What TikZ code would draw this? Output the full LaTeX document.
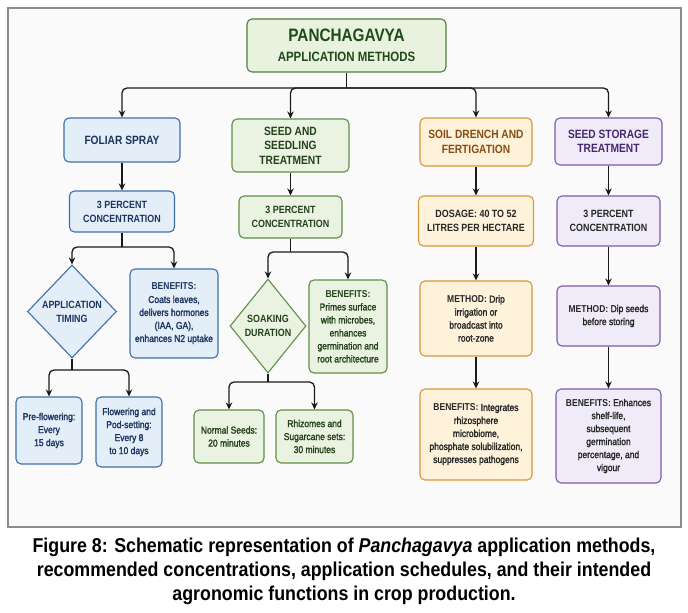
\documentclass[tikz,border=0pt]{standalone}
\usepackage{fontspec}
\setmainfont{Liberation Sans}
\newfontfamily\boxfont[FakeStretch=0.85]{Liberation Sans}
\newfontfamily\bodyfont[FakeStretch=0.85,FakeBold=1.8]{Liberation Sans}
\newfontfamily\capfont[FakeStretch=0.89]{Liberation Sans}
\usetikzlibrary{arrows.meta,shapes.geometric}
\def\lead#1{{\boxfont\bfseries #1}}

\definecolor{framec}{HTML}{8C8C8C}
\definecolor{linec}{HTML}{1A1A1A}
\definecolor{titlefill}{HTML}{E8F2DF}
\definecolor{titleline}{HTML}{4E7F38}
\definecolor{titletext}{HTML}{1E4A18}
\definecolor{bluefill}{HTML}{E4EEF9}
\definecolor{blueline}{HTML}{3F6FA8}
\definecolor{bluetext}{HTML}{1C3560}
\definecolor{greenfill}{HTML}{EAF3E2}
\definecolor{greenline}{HTML}{5F8F45}
\definecolor{greentext}{HTML}{24421A}
\definecolor{orfill}{HTML}{FEF3DA}
\definecolor{orline}{HTML}{D6963A}
\definecolor{ortext}{HTML}{8A4C12}
\definecolor{purfill}{HTML}{F0EBF8}
\definecolor{purline}{HTML}{7C5BA8}
\definecolor{purtext}{HTML}{45286F}
\definecolor{darktext}{HTML}{262626}

\tikzset{
  box/.style={draw, rounded corners=5pt, line width=1.1pt, align=center, inner sep=1pt},
  head/.style={font=\boxfont\bfseries\fontsize{12}{14.5}\selectfont},
  sub/.style={font=\boxfont\bfseries\fontsize{10.5}{14}\selectfont},
  body/.style={font=\bodyfont\fontsize{10}{13}\selectfont},
  bluebox/.style={box, draw=blueline, fill=bluefill, text=bluetext},
  greenbox/.style={box, draw=greenline, fill=greenfill, text=greentext},
  orbox/.style={box, draw=orline, fill=orfill, text=darktext},
  purbox/.style={box, draw=purline, fill=purfill, text=darktext},
  dia/.style={diamond, draw, line width=1.1pt, align=center, inner sep=0pt},
  wire/.style={line width=1.3pt, draw=linec},
  arr/.style={wire, rounded corners=5pt, -{Stealth[length=7pt,width=6.5pt]}},
}

\begin{document}
\begin{tikzpicture}[x=1pt,y=-1pt]
		%%%%% START %%%%%
		
		\useasboundingbox (0,0) rectangle (688,613);
		\fill[white] (0,0) rectangle (688,613);
		\draw[line width=1.6pt, draw=framec, fill=black!2] (8,8) rectangle (681,527);
		
		% top
		\node[box, draw=titleline, fill=titlefill, text=titletext, minimum width=199pt, minimum height=53pt,
		      font=\boxfont\bfseries\fontsize{18}{20}\selectfont] (title) at (346.5,45.5)
		      {PANCHAGAVYA\\{\fontsize{13.5}{16}\selectfont APPLICATION METHODS}};
		\coordinate (bus) at (346.5,88);
		
		% foliar spray
		\node[bluebox, head, minimum width=116pt, minimum height=44pt] (foliar) at (122,140) {FOLIAR SPRAY};
		\node[bluebox, sub, minimum width=105pt, minimum height=41pt] (fconc) at (122,211.5) {3 PERCENT\\CONCENTRATION};
		\node[dia, draw=blueline, fill=bluefill, text=bluetext, sub, minimum width=89pt, minimum height=93pt] (ftime) at (72,311.5) {APPLICATION\\TIMING};
		\node[bluebox, body, minimum width=88pt, minimum height=89pt] (fben) at (174,313.5)
		      {\lead{BENEFITS:}\\Coats leaves,\\delivers hormones\\(IAA, GA),\\enhances N2 uptake};
		\node[bluebox, body, minimum width=66pt, minimum height=67pt] (fpre) at (49,430.5) {Pre-flowering:\\Every\\15 days};
		\node[bluebox, body, minimum width=66pt, minimum height=70pt] (fflow) at (129,432) {Flowering and\\Pod-setting:\\Every 8\\to 10 days};
		\coordinate (fsplit) at (122,247);
		\coordinate (tsplit) at (72,370);
		
		% seed and seedling
		\node[greenbox, head, minimum width=117pt, minimum height=53pt] (seed) at (290.5,145.5) {SEED AND\\SEEDLING\\TREATMENT};
		\node[greenbox, sub, minimum width=103pt, minimum height=42pt] (sconc) at (290.5,217) {3 PERCENT\\CONCENTRATION};
		\node[dia, draw=greenline, fill=greenfill, text=greentext, sub, minimum width=76pt, minimum height=94pt] (ssoak) at (268,326) {SOAKING\\DURATION};
		\node[greenbox, body, minimum width=78pt, minimum height=93pt] (sben) at (348,326.5)
		      {\lead{BENEFITS:}\\Primes surface\\with microbes,\\enhances\\germination and\\root architecture};
		\node[greenbox, body, minimum width=70pt, minimum height=53pt] (snorm) at (229,436.5) {Normal Seeds:\\20 minutes};
		\node[greenbox, body, minimum width=77pt, minimum height=53pt] (srhiz) at (314.5,436.5) {Rhizomes and\\Sugarcane sets:\\30 minutes};
		\coordinate (ssplit) at (290.5,252);
		\coordinate (dsplit) at (268,382);
		
		% soil drench
		\node[orbox, head, text=ortext, minimum width=112pt, minimum height=48pt] (soil) at (476,142) {SOIL DRENCH AND\\FERTIGATION};
		\node[orbox, sub, minimum width=115pt, minimum height=50pt] (odose) at (476,221) {DOSAGE: 40 TO 52\\LITRES PER HECTARE};
		\node[orbox, body, minimum width=112pt, minimum height=75pt] (ometh) at (476,318.5)
		      {\lead{METHOD:} Drip\\irrigation or\\broadcast into\\root-zone};
		\node[orbox, body, minimum width=112pt, minimum height=91pt] (oben) at (476,434.5)
		      {\lead{BENEFITS:} Integrates\\rhizosphere\\microbiome,\\phosphate solubilization,\\suppresses pathogens};
		
		% seed storage
		\node[purbox, head, text=purtext, minimum width=107pt, minimum height=47pt] (store) at (608.5,141.5) {SEED STORAGE\\TREATMENT};
		\node[purbox, sub, minimum width=103pt, minimum height=50pt] (pconc) at (608.5,221) {3 PERCENT\\CONCENTRATION};
		\node[purbox, body, minimum width=103pt, minimum height=60pt] (pmeth) at (608.5,316) {\lead{METHOD:} Dip seeds\\before storing};
		\node[purbox, body, minimum width=105pt, minimum height=94pt] (pben) at (608.5,436)
		      {\lead{BENEFITS:} Enhances\\shelf-life,\\subsequent\\germination\\percentage, and\\vigour};
		
		% connectors
		\draw[wire] (title.south) -- (bus);
		\draw[arr] (bus) -| (foliar.north);
		\draw[arr] (bus) -| (seed.north);
		\draw[arr] (bus) -| (soil.north);
		\draw[arr] (bus) -| (store.north);
		
		\draw[arr] (foliar) -- (fconc);
		\draw[wire] (fconc.south) -- (fsplit);
		\draw[arr] (fsplit) -| (ftime.north);
		\draw[arr] (fsplit) -| (fben.north);
		\draw[wire] (ftime.south) -- (tsplit);
		\draw[arr] (tsplit) -| (fpre.north);
		\draw[arr] (tsplit) -| (fflow.north);
		
		\draw[arr] (seed) -- (sconc);
		\draw[wire] (sconc.south) -- (ssplit);
		\draw[arr] (ssplit) -| (ssoak.north);
		\draw[arr] (ssplit) -| (sben.north);
		\draw[wire] (ssoak.south) -- (dsplit);
		\draw[arr] (dsplit) -| (snorm.north);
		\draw[arr] (dsplit) -| (srhiz.north);
		
		\draw[arr] (soil) -- (odose);
		\draw[arr] (odose) -- (ometh);
		\draw[arr] (ometh) -- (oben);
		
		\draw[arr] (store) -- (pconc);
		\draw[arr] (pconc) -- (pmeth);
		\draw[arr] (pmeth) -- (pben);
		
		% caption
		\node[font=\capfont\bfseries\fontsize{20}{24}\selectfont, align=center] (caption) at (344,571)
		      {Figure 8: Schematic representation of \textit{Panchagavya} application methods,\\
		       recommended concentrations, application schedules, and their intended\\
		       agronomic functions in crop production.};
		
		%%%%% END %%%%%
	\end{tikzpicture}
\end{document}
